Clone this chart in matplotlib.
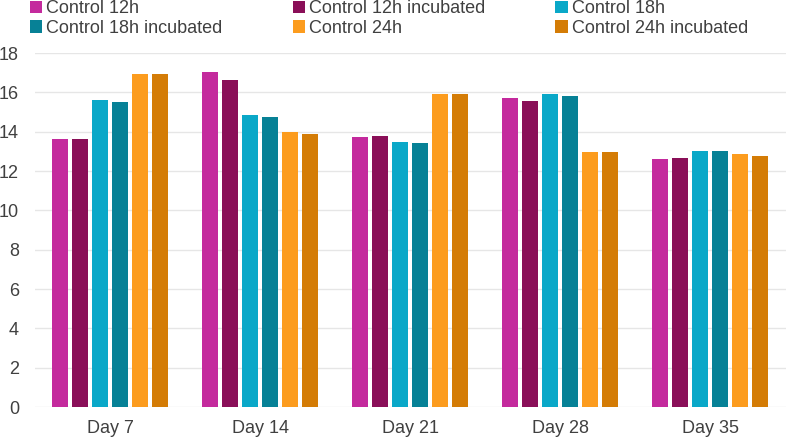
import matplotlib
matplotlib.use("Agg")
import matplotlib.pyplot as plt
from matplotlib.patches import Patch
import numpy as np

plt.rcParams['font.family'] = ['Liberation Sans', 'DejaVu Sans']

categories = ["Day 7", "Day 14", "Day 21", "Day 28", "Day 35"]
series_names = ["Control 12h", "Control 12h incubated", "Control 18h",
                "Control 18h incubated", "Control 24h", "Control 24h incubated"]
control_12h = [13.61, 17.02, 13.74, 15.69, 12.59]
control_12h_inc = [13.61, 16.62, 13.78, 15.57, 12.68]
control_18h = [15.60, 14.85, 13.46, 15.90, 13.01]
control_18h_inc = [15.52, 14.76, 13.40, 15.81, 13.01]
control_24h = [16.93, 13.96, 15.91, 12.98, 12.85]
control_24h_inc = [16.93, 13.88, 15.91, 12.98, 12.76]
series_values = [control_12h, control_12h_inc, control_18h,
                 control_18h_inc, control_24h, control_24h_inc]
colors = ["#C42A9D", "#8A0F58", "#0AA8C8", "#078196", "#FC9C1E", "#D47C06"]
yticks = [0, 2, 4, 6, 8, 10, 12, 14, 16, 18]

W, H = 787, 440
fig = plt.figure(figsize=(W / 100, H / 100), dpi=100)
ax = fig.add_axes([35 / W, 33 / H, 751 / W, 354 / H])

x = np.arange(len(categories))
pitch = 20 / 150
bw = 16 / 150
n = len(series_values)
for i, (vals, c) in enumerate(zip(series_values, colors)):
    offs = (i - (n - 1) / 2) * pitch
    ax.bar(x + offs, vals, width=bw, color=c, zorder=3)

ax.set_xlim(-0.5, len(categories) - 0.5 + 1 / 150)
ax.set_ylim(0, 18)
ax.set_yticks(yticks)
ax.set_xticks(x)
ax.set_xticklabels(categories)
ax.grid(axis='y', color='#E6E6E6', linewidth=1.0, zorder=0)
ax.set_axisbelow(True)
for s in ax.spines.values():
    s.set_visible(False)
ax.tick_params(axis='y', length=0, pad=11.5, labelsize=13, labelcolor='#404040')
ax.tick_params(axis='x', length=0, pad=9, labelsize=13, labelcolor='#404040')

# legend fills row-wise in the reference; matplotlib fills column-wise
ncol = 3
nrow = int(np.ceil(n / ncol))
order = [r * ncol + c for c in range(ncol) for r in range(nrow) if r * ncol + c < n]
handles = [Patch(facecolor=colors[k], edgecolor='none') for k in order]
labels = [series_names[k] for k in order]
fig.legend(handles, labels, loc='upper left',
           bbox_to_anchor=(30 / W, 1 - 0 / H), ncol=ncol, frameon=False,
           fontsize=13, handlelength=0.67, handleheight=0.67,
           handletextpad=0.22, columnspacing=3.9, borderpad=0,
           borderaxespad=0, labelspacing=0.15, labelcolor='#404040')

fig.savefig("out.png", dpi=100)
